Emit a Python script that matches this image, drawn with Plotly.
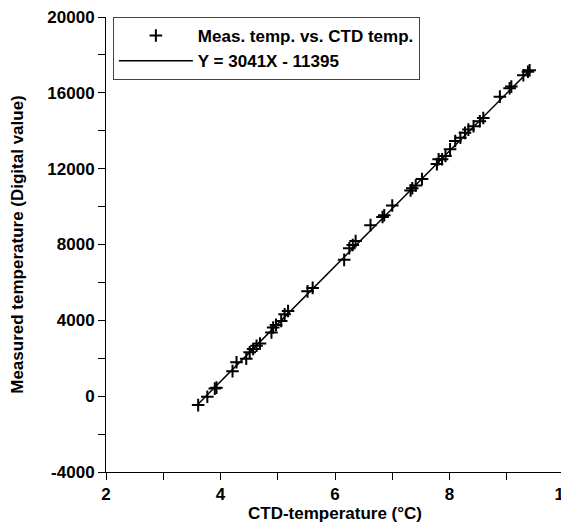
import plotly.graph_objects as go

# CTD temperature (°C) and measured temperature (digital value)
ctd_temp = [3.61, 3.77, 3.90, 3.93, 4.21, 4.28, 4.45, 4.51, 4.57, 4.63, 4.69,
            4.89, 4.92, 4.97, 5.06, 5.12, 5.18, 5.52, 5.61, 6.16, 6.25, 6.31,
            6.36, 6.62, 6.83, 6.86, 7.00, 7.32, 7.35, 7.41, 7.52, 7.78, 7.81,
            7.87, 7.93, 8.01, 8.10, 8.19, 8.27, 8.33, 8.42, 8.53, 8.59, 8.88,
            9.05, 9.08, 9.29, 9.37, 9.40]
meas_temp = [-470, -30, 400, 450, 1320, 1790, 1970, 2310, 2490, 2660, 2780,
             3360, 3620, 3760, 3970, 4320, 4490, 5530, 5710, 7190, 7800, 7970,
             8180, 9020, 9450, 9540, 10060, 10850, 10970, 11110, 11450, 12240, 12500,
             12500, 12670, 13020, 13460, 13630, 13890, 14060, 14240, 14500, 14670, 15800,
             16240, 16330, 16930, 17110, 17190]

# linear fit Y = slope*X + intercept
slope = 3041
intercept = -11395
fit_x = [min(ctd_temp), max(ctd_temp)]
fit_y = [slope * v + intercept for v in fit_x]

x_ticks = [2, 3, 4, 5, 6, 7, 8, 9, 10]
x_labels = ["2", "", "4", "", "6", "", "8", "", "10"]
y_ticks = [-4000, -2000, 0, 2000, 4000, 6000, 8000, 10000, 12000, 14000, 16000, 18000, 20000]
y_labels = ["-4000", "", "0", "", "4000", "", "8000", "", "12000", "", "16000", "", "20000"]

font_bold = dict(family="Liberation Sans, Arial", size=17, color="black", weight="bold")

fig = go.Figure()
fig.add_trace(go.Scatter(
    x=ctd_temp, y=meas_temp, mode="markers",
    name="Meas. temp. vs. CTD temp.",
    marker=dict(symbol="cross-thin", size=9, color="black",
                line=dict(width=2, color="black")),
))
fig.add_trace(go.Scatter(
    x=fit_x, y=fit_y, mode="lines",
    name="Y = 3041X - 11395",
    line=dict(color="black", width=1.5),
))

# page body adds ~8px offset, margins compensate for it
fig.update_layout(
    width=569, height=529,
    margin=dict(l=98, r=13, t=9, b=65),
    plot_bgcolor="white", paper_bgcolor="white",
    font=font_bold,
    showlegend=True,
    legend=dict(x=0.015, y=1, xanchor="left", yanchor="top",
                bgcolor="white", bordercolor="#444444", borderwidth=1,
                font=font_bold, itemwidth=74, tracegroupgap=0),
    xaxis=dict(
        range=[2, 10], tickvals=x_ticks, ticktext=x_labels,
        ticks="outside", ticklen=7, tickwidth=1, tickcolor="black",
        showline=True, linecolor="black", linewidth=1,
        showgrid=False, zeroline=False, tickfont=font_bold, automargin=False,
        ticklabeloverflow="allow",
        title=dict(text="CTD-temperature (°C)", font=font_bold, standoff=2),
    ),
    yaxis=dict(
        range=[-4000, 20000], tickvals=y_ticks, ticktext=y_labels,
        ticks="outside", ticklen=7, tickwidth=1, tickcolor="black",
        showline=True, linecolor="black", linewidth=1,
        showgrid=False, zeroline=False, tickfont=font_bold, automargin=False,
        ticklabeloverflow="allow",
        title=dict(text="Measured temperature (Digital value)", font=font_bold, standoff=20),
    ),
)

fig.write_html("out.html")
